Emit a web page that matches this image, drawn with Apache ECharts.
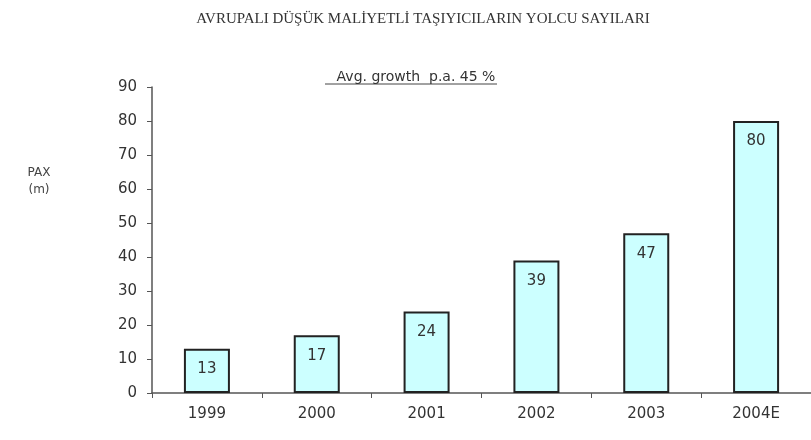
<!DOCTYPE html>
<html><head><meta charset="utf-8">
<script src="https://cdn.jsdelivr.net/npm/echarts@6/dist/echarts.min.js"></script>
<style>html,body{margin:0;padding:0;background:#fff}#c{width:811px;height:440px}</style>
</head><body><div id="c"></div>
<script>
const categories = ['1999','2000','2001','2002','2003','2004E'];
const values = [13, 17, 24, 39, 47, 80];
const titleText = 'AVRUPALI DÜŞÜK MALİYETLİ TAŞIYICILARIN YOLCU SAYILARI';
const subtitleText = 'Avg. growth  p.a. 45 %';
const yTitle = 'PAX\n(m)';

const chart = echarts.init(document.getElementById('c'), null, {renderer:'canvas'});
chart.setOption({
  animation:false,
  backgroundColor:'#fff',
  title:[
    {text:titleText, left:418, top:7, textAlign:'center',
     textStyle:{fontFamily:'Liberation Serif', fontSize:15, fontWeight:'normal', color:'#333'}},
    {text:subtitleText, left:411, top:65, textAlign:'center',
     textStyle:{fontFamily:'DejaVu Sans', fontSize:14, fontWeight:'normal', color:'#333'}}
  ],
  graphic:[
    {type:'text', x:39, y:164, style:{text:yTitle, font:'12px "DejaVu Sans"', fill:'#444', align:'center', lineHeight:17}},
    {type:'line', shape:{x1:325, y1:84, x2:497, y2:84}, style:{stroke:'#444', lineWidth:1}}
  ],
  grid:{left:152, top:87, width:669, height:306},
  xAxis:{type:'category', data:categories, boundaryGap:true,
    axisLine:{lineStyle:{color:'#555', width:1.5}},
    axisTick:{show:true, length:5, lineStyle:{color:'#555'}},
    axisLabel:{fontFamily:'DejaVu Sans', fontSize:15, color:'#333', margin:14}
  },
  yAxis:{type:'value', min:0, max:90, interval:10,
    axisLine:{show:true, lineStyle:{color:'#555', width:1.5}},
    axisTick:{show:true, length:5, lineStyle:{color:'#555'}},
    splitLine:{show:false},
    axisLabel:{fontFamily:'DejaVu Sans', fontSize:15, color:'#333', margin:15}
  },
  series:[{type:'bar', data:values, barWidth:46,
    itemStyle:{color:'#ccffff', borderColor:'#222', borderWidth:2},
    label:{show:true, position:'insideTop', distance:13, fontFamily:'DejaVu Sans', fontSize:15, color:'#333'}
  }]
});
</script></body></html>
